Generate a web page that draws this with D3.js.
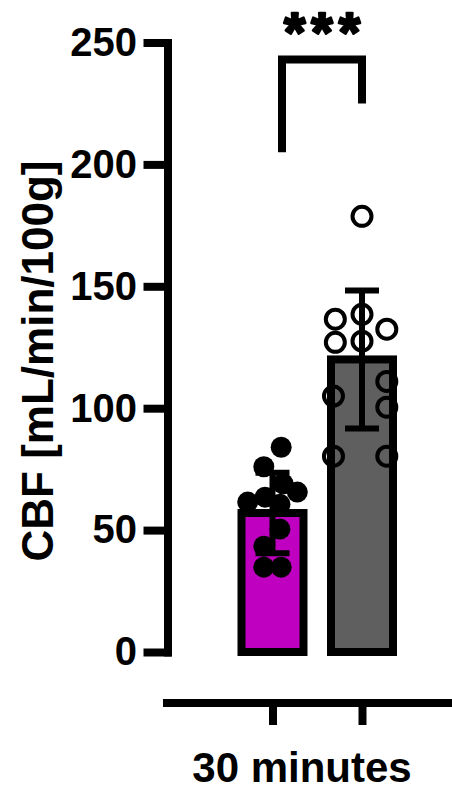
<!DOCTYPE html>
<html>
<head>
<meta charset="utf-8">
<script src="https://cdn.jsdelivr.net/npm/d3@7"></script>
<style>
  body { margin: 0; background: #fff; }
  text { font-family: 'Liberation Sans', Arial, sans-serif; font-weight: bold; }
</style>
</head>
<body>
<svg id="chart"></svg>
<script>
// groups and summary values
const groups = ['A', 'B'];
const means = [57, 120];
const sds = [16.5, 28.3];
const fills = ['#c000c0', '#5f5f5f'];

// individual points (value, jitter as fraction of bar width)
const valuesA = [84, 76, 69, 65.6, 61.5, 63.5, 60.6, 50.4, 43.4, 34.8, 34.8];
const jitterA = [0.14, -0.14, 0.17, 0.40, -0.40, -0.12, 0.12, 0.12, -0.14, -0.14, 0.14];
const valuesB = [178.7, 136.5, 138.5, 132.4, 127, 127.5, 111, 105, 100.4, 80.3, 80.3];
const jitterB = [0, -0.43, 0, 0.40, -0.43, 0, 0.40, -0.46, 0.40, -0.46, 0.40];

const yTicks = [0, 50, 100, 150, 200, 250];
const xLabel = '30 minutes';
const yLabel = 'CBF [mL/min/100g]';
const stars = '***';
// significance bracket: top, left leg end, right leg end (in y units)
const bracket = [243, 205, 225];

const w = 452;
const h = 791;
const lw = 8;
const barW = 62;

const svg = d3.select('#chart')
  .attr('width', w)
  .attr('height', h);

const y = d3.scaleLinear()
  .domain([0, 250])
  .range([652, 42.5]);

const x = d3.scalePoint()
  .domain(groups)
  .range([272.5, 362]);

// y axis
const yAxis = d3.axisLeft(y)
  .tickValues(yTicks)
  .tickSize(20)
  .tickSizeOuter(0)
  .tickPadding(10.5);
const gy = svg.append('g')
  .attr('transform', 'translate(167.5,0)')
  .call(yAxis);
gy.select('.domain')
  .attr('stroke-width', lw)
  .attr('stroke-linecap', 'square');
gy.selectAll('.tick line')
  .attr('stroke-width', lw)
  .attr('stroke-linecap', 'square');
gy.selectAll('.tick text')
  .attr('font-size', 40)
  .attr('font-family', null)
  .attr('fill', '#000');

// x axis (separate line below the plot)
svg.append('line')
  .attr('x1', 163).attr('x2', w + 10)
  .attr('y1', 703).attr('y2', 703)
  .attr('stroke', '#000')
  .attr('stroke-width', lw);
const xAxis = d3.axisBottom(x)
  .tickSize(22)
  .tickSizeOuter(0)
  .tickFormat('');
const gx = svg.append('g')
  .attr('transform', 'translate(0,703)')
  .call(xAxis);
gx.select('.domain').remove();
gx.selectAll('.tick line').attr('stroke-width', lw);

svg.append('text')
  .attr('x', 302)
  .attr('y', 782)
  .attr('text-anchor', 'middle')
  .attr('font-size', 42)
  .text(xLabel);

svg.append('text')
  .attr('transform', 'translate(53,361) rotate(-90)')
  .attr('text-anchor', 'middle')
  .attr('font-size', 44)
  .text(yLabel);

// bars
svg.selectAll('.bar')
  .data(groups)
  .join('rect')
    .attr('class', 'bar')
    .attr('x', d => x(d) - barW / 2)
    .attr('y', (_, i) => y(means[i]))
    .attr('width', barW)
    .attr('height', (_, i) => y(0) - y(means[i]))
    .attr('fill', (_, i) => fills[i])
    .attr('stroke', '#000')
    .attr('stroke-width', lw);

// error bars
const capW = 34;
groups.forEach((g, i) => {
  const e = svg.append('g')
    .attr('stroke', '#000')
    .attr('stroke-width', 6);
  e.append('line')
    .attr('x1', x(g)).attr('x2', x(g))
    .attr('y1', y(means[i] - sds[i])).attr('y2', y(means[i] + sds[i]));
  [means[i] - sds[i], means[i] + sds[i]].forEach(v => {
    e.append('line')
      .attr('x1', x(g) - capW / 2).attr('x2', x(g) + capW / 2)
      .attr('y1', y(v)).attr('y2', y(v));
  });
});

// points
svg.selectAll('.ptA')
  .data(valuesA)
  .join('circle')
    .attr('class', 'ptA')
    .attr('cx', (_, i) => x('A') + jitterA[i] * barW)
    .attr('cy', d => y(d))
    .attr('r', 10.5)
    .attr('fill', '#000');

svg.selectAll('.ptB')
  .data(valuesB)
  .join('circle')
    .attr('class', 'ptB')
    .attr('cx', (_, i) => x('B') + jitterB[i] * barW)
    .attr('cy', d => y(d))
    .attr('r', 9.5)
    .attr('fill', 'none')
    .attr('stroke', '#000')
    .attr('stroke-width', 4);

// significance bracket
const bx1 = 282;
const bx2 = x('B');
svg.append('path')
  .attr('d', `M${bx1},${y(bracket[1])}V${y(bracket[0])}H${bx2}V${y(bracket[2])}`)
  .attr('fill', 'none')
  .attr('stroke', '#000')
  .attr('stroke-width', lw);

svg.append('text')
  .attr('x', (bx1 + bx2) / 2 + 3)
  .attr('y', 51)
  .attr('text-anchor', 'middle')
  .attr('font-size', 55)
  .attr('letter-spacing', 6)
  .attr('stroke', '#000')
  .attr('stroke-width', 2.5)
  .attr('stroke-linejoin', 'round')
  .text(stars);
</script>
</body>
</html>
